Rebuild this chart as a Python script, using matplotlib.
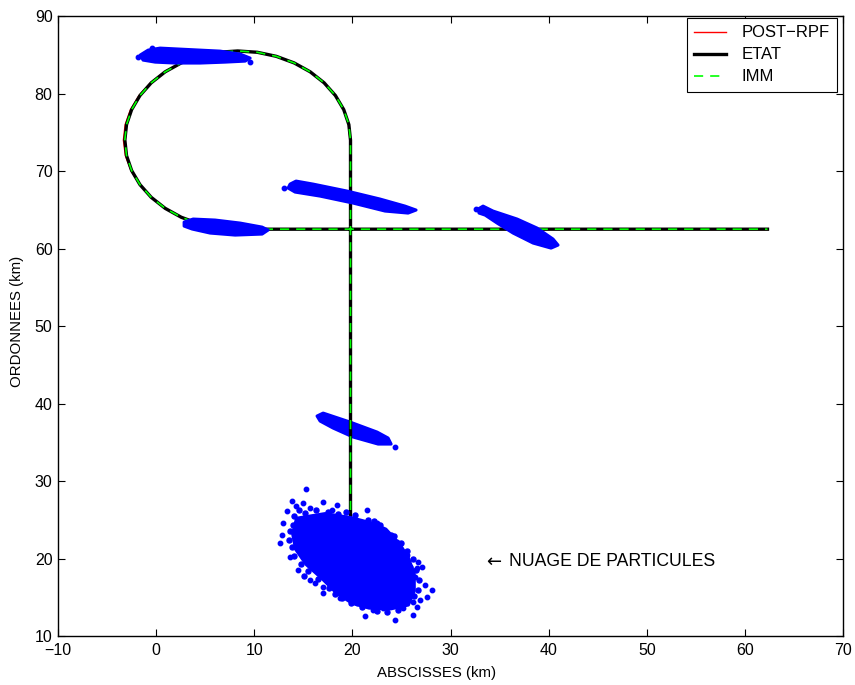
import matplotlib
matplotlib.use("Agg")
import matplotlib.pyplot as plt
from matplotlib.patches import Polygon

plt.rcParams['font.family'] = ['Liberation Sans', 'DejaVu Sans']

# ---- trajectory (ETAT) ----
x_etat = [19.80, 19.80, 19.63, 19.11, 18.26, 17.11, 15.69, 14.05, 12.23, 10.30, 8.30,
          6.30, 4.37, 2.55, 0.91, -0.51, -1.66, -2.51, -3.03, -3.20,
          -3.03, -2.51, -1.66, -0.51, 0.91, 2.55, 4.37, 6.30, 8.30, 62.3]
y_etat = [20.00, 74.00, 76.00, 77.93, 79.75, 81.39, 82.81, 83.96, 84.81, 85.33, 85.50,
          85.33, 84.81, 83.96, 82.81, 81.39, 79.75, 77.93, 76.00, 74.00,
          72.00, 70.07, 68.25, 66.61, 65.19, 64.04, 63.19, 62.67, 62.50, 62.50]

# ---- estimate POST-RPF ----
x_rpf = [19.75, 19.75, 19.60, 19.10, 18.26, 17.11, 15.69, 14.05, 12.23, 10.30, 8.30,
         6.30, 4.37, 2.52, 0.86, -0.58, -1.76, -2.63, -3.17, -3.35,
         -3.15, -2.58, -1.70, -0.51, 0.91, 2.55, 4.37, 6.30, 8.30, 62.3]
y_rpf = [20.00, 74.00, 76.00, 77.93, 79.75, 81.39, 82.81, 83.96, 84.81, 85.33, 85.50,
         85.33, 84.81, 83.96, 82.81, 81.39, 79.75, 77.93, 76.00, 74.00,
         72.00, 70.07, 68.25, 66.61, 65.19, 64.04, 63.19, 62.67, 62.50, 62.45]

# ---- estimate IMM ----
x_imm = x_etat
y_imm = y_etat

# ---- particle clouds (outlines) ----
cloud_top_x = [-1.64, -0.83, 0.39, 2.43, 4.47, 6.51, 8.55, 9.57, 9.06, 7.02, 4.47, 1.92, -0.11, -1.34]
cloud_top_y = [84.97, 85.61, 85.87, 85.74, 85.61, 85.48, 85.10, 84.58, 84.19, 84.06, 83.94, 83.94, 84.06, 84.32]

cloud_mid_x = [13.64, 14.25, 15.99, 19.45, 22.81, 25.36, 26.48, 25.67, 23.32, 20.06, 16.70, 14.15, 13.44]
cloud_mid_y = [68.32, 68.71, 68.32, 67.42, 66.39, 65.48, 64.97, 64.58, 64.84, 65.87, 66.77, 67.29, 67.81]

cloud_right_x = [32.80, 33.31, 34.33, 36.78, 38.81, 40.44, 40.95, 40.24, 38.41, 36.37, 34.74, 33.52, 32.90]
cloud_right_y = [65.10, 65.48, 64.84, 63.81, 62.65, 61.23, 60.45, 60.06, 60.71, 62.00, 63.29, 64.32, 64.58]

cloud_bot_x = [2.84, 3.76, 6.00, 8.55, 10.79, 11.40, 10.79, 8.04, 5.49, 3.66, 2.84]
cloud_bot_y = [63.42, 63.81, 63.68, 63.29, 62.77, 62.39, 61.87, 61.74, 62.00, 62.52, 62.90]

cloud_low_x = [16.39, 17.01, 19.76, 22.51, 23.63, 23.94, 22.61, 20.06, 18.02, 16.70]
cloud_low_y = [38.39, 38.77, 37.61, 36.32, 35.55, 34.77, 34.77, 35.68, 36.84, 37.74]

cloud_init_x = [14.3, 17.2, 19.8, 21.9, 23.4, 24.8, 25.7, 26.3, 26.3, 25.7,
                23.9, 21.7, 20.0, 18.4, 16.9, 15.3, 14.2, 13.9]
cloud_init_y = [25.2, 25.8, 25.3, 24.6, 23.8, 21.9, 20.1, 18.0, 15.8, 14.0,
                13.5, 13.6, 14.2, 15.5, 17.4, 19.2, 21.2, 23.2]

# isolated particles (outer fringe)
part_x = [15.3, 13.8, 13.3, 14.2, 15.0, 15.7, 17.0, 17.9, 18.4, 21.5, 20.6, 22.5, 23.3, 24.5,
          25.6, 26.7, 27.1, 26.6, 26.4, 27.4, 28.1, 27.6, 26.9, 12.6, 12.8, 12.9, 13.6, 14.4,
          15.7, 16.2, 17.0, 17.0, 18.7, 20.5, 21.8, 26.2, 26.6, 26.2, 21.3, 24.3, 22.1, 23.1,
          25.1, 25.4, 13.0, 24.34, -1.9, -0.4, 9.6, 32.6]
part_y = [29.0, 27.4, 26.1, 26.8, 27.2, 26.5, 27.3, 26.3, 26.9, 26.3, 24.6, 24.6, 23.3, 22.1,
          20.5, 19.6, 18.9, 18.8, 17.6, 16.6, 15.9, 15.0, 14.7, 22.0, 23.0, 24.6, 20.2, 18.5,
          17.2, 16.8, 16.3, 15.5, 14.9, 14.3, 14.0, 14.4, 13.7, 12.7, 12.6, 12.1, 13.4, 13.6,
          13.6, 14.4, 67.8, 34.39, 84.7, 85.9, 84.1, 65.1]

# particles near the edge of the dense core
edge_x = [14.0, 15.2, 16.3, 18.5, 19.3, 20.3, 21.6, 22.8, 23.9, 24.9, 25.6, 26.2, 26.5, 26.8,
          26.7, 26.3, 24.6, 23.5, 22.5, 21.0, 19.8, 18.2, 17.6, 16.5, 15.5, 14.8, 14.0, 13.8,
          13.5, 13.6, 13.9, 14.5, 17.5, 16.9, 22.2, 24.2, 25.9, 25.0, 18.9, 15.1]
edge_y = [25.5, 25.9, 26.2, 25.8, 26.0, 25.6, 25.0, 24.3, 23.0, 22.0, 21.0, 19.9, 18.5, 17.2,
          16.0, 15.2, 13.3, 13.1, 13.2, 13.8, 14.2, 15.4, 16.2, 17.4, 18.4, 19.3, 20.3, 21.5,
          22.4, 23.6, 24.3, 26.2, 26.0, 25.0, 24.9, 22.9, 18.9, 13.9, 14.9, 17.8]

annot_arrow = "\u2190"
annot_text = "NUAGE DE PARTICULES"
annot_x = 33.6
annot_y = 19.6

fig = plt.figure(figsize=(8.55, 6.85), dpi=100)
ax = fig.add_axes([0.068, 0.0715, 0.918, 0.905])

blue = '#0000ff'
clouds_under = [(cloud_top_x, cloud_top_y), (cloud_mid_x, cloud_mid_y),
                (cloud_right_x, cloud_right_y), (cloud_bot_x, cloud_bot_y),
                (cloud_init_x, cloud_init_y)]
for cx, cy in clouds_under:
    ax.add_patch(Polygon(list(zip(cx, cy)), closed=True, facecolor=blue,
                         edgecolor=blue, lw=2.2, joinstyle='round', zorder=5))
ax.add_patch(Polygon(list(zip(cloud_low_x, cloud_low_y)), closed=True, facecolor=blue,
                     edgecolor=blue, lw=2.2, joinstyle='round', zorder=2))
ax.plot(part_x, part_y, 'o', color=blue, ms=3.2, mec=blue, zorder=5)
ax.plot(edge_x, edge_y, 'o', color=blue, ms=3.6, mec=blue, zorder=5)

l1, = ax.plot(x_rpf, y_rpf, color='#ff0000', lw=1.0, zorder=3, label='POST\u2212RPF',
              solid_joinstyle='round')
l2, = ax.plot(x_etat, y_etat, color='black', lw=2.4, zorder=3.5, label='ETAT',
              solid_joinstyle='round')
l3, = ax.plot(x_imm, y_imm, color='#00ff00', lw=1.2, zorder=4, label='IMM',
              dashes=[5.5, 4.2])

ax.text(annot_x, annot_y, annot_arrow, fontsize=13, va='center', ha='left',
        family=['DejaVu Sans'])
ax.text(annot_x + 2.4, annot_y, annot_text, fontsize=12.7, va='center', ha='left')

ax.set_xlim(-10, 70)
ax.set_ylim(10, 90)
ax.set_xticks(range(-10, 71, 10))
ax.set_yticks(range(10, 91, 10))
ax.tick_params(direction='in', top=True, right=True, length=5, width=0.8,
               labelsize=11.5)
ax.tick_params(axis='x', pad=5)
ax.tick_params(axis='y', pad=4)
for s in ax.spines.values():
    s.set_linewidth(1.0)
ax.set_xlabel('ABSCISSES (km)', fontsize=10.8)
ax.set_ylabel('ORDONNEES (km)', fontsize=10.8)
ax.xaxis.set_label_coords(0.482, -0.049)
ax.yaxis.set_label_coords(-0.044, 0.508)

leg = ax.legend(handles=[l1, l2, l3], loc='upper right', bbox_to_anchor=(0.992, 0.997),
                borderaxespad=0, fancybox=False, framealpha=1, edgecolor='black',
                fontsize=12, handlelength=1.9, labelspacing=0.42, borderpad=0.45,
                handletextpad=0.9)
leg.get_frame().set_linewidth(0.8)
leg.set_zorder(10)

fig.savefig('out.png', dpi=100)
